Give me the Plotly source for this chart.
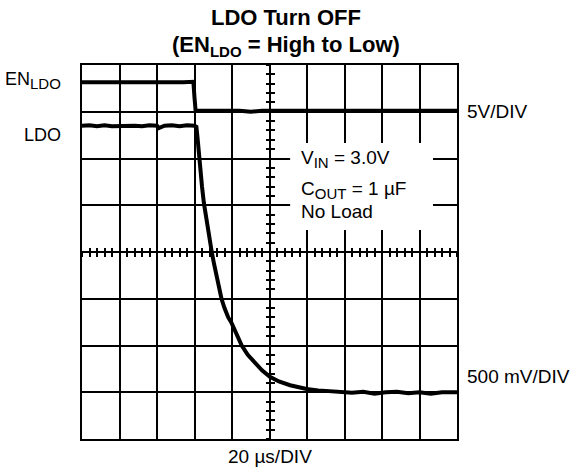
import plotly.graph_objects as go

# time and level in scope divisions (10 x 8 grid)
en_t = [0.0, 0.3, 0.6, 0.9, 1.2, 1.5, 1.8, 2.1, 2.4, 2.7, 2.97, 3.0, 3.03, 3.3, 3.6, 3.9,
        4.2, 4.5, 4.8, 5.1, 5.4, 5.7, 6.0, 6.3, 6.6, 6.9, 7.2, 7.5, 7.8, 8.1, 8.4, 8.7,
        9.0, 9.3, 9.6, 10.0]
en_v = [7.63, 7.64, 7.63, 7.63, 7.64, 7.63, 7.63, 7.64, 7.63, 7.63, 7.64, 7.3, 7.02, 7.02,
        7.03, 7.02, 7.02, 7.0, 7.02, 7.03, 7.02, 7.02, 7.02, 7.01, 7.02, 7.02, 7.03, 7.02,
        7.02, 7.02, 7.01, 7.02, 7.02, 7.03, 7.02, 7.02]

ldo_t = [0.0, 0.2, 0.4, 0.6, 0.8, 1.0, 1.2, 1.4, 1.6, 1.8, 2.0, 2.05, 2.2, 2.4, 2.6,
         2.8, 3.0, 3.05, 3.08, 3.12, 3.16, 3.20, 3.25, 3.30, 3.36, 3.41, 3.46, 3.52,
         3.58, 3.65, 3.72, 3.80, 3.90, 3.99, 4.10, 4.26, 4.42, 4.61, 4.80, 5.01, 5.25,
         5.55, 5.80, 5.99, 6.3, 6.6, 6.9, 7.2, 7.5, 7.8, 8.1, 8.4, 8.7, 9.0, 9.3,
         9.6, 10.0]
ldo_v = [6.70, 6.71, 6.69, 6.71, 6.69, 6.70, 6.71, 6.70, 6.69, 6.71, 6.70, 6.65, 6.70,
         6.71, 6.69, 6.71, 6.70, 6.68, 6.45, 6.05, 5.70, 5.40, 5.05, 4.78, 4.47, 4.20,
         4.00, 3.75, 3.52, 3.26, 3.00, 2.80, 2.60, 2.48, 2.27, 2.00, 1.80, 1.62, 1.47,
         1.33, 1.23, 1.15, 1.10, 1.07, 1.04, 1.02, 1.00, 0.99, 1.01, 0.97, 1.00, 1.01,
         0.98, 1.00, 0.97, 1.00, 1.00]

fig = go.Figure()
fig.add_trace(go.Scatter(x=en_t, y=en_v, mode="lines",
                         line=dict(color="black", width=4), showlegend=False))
fig.add_trace(go.Scatter(x=ldo_t, y=ldo_v, mode="lines",
                         line=dict(color="black", width=4), showlegend=False))
# empty traces so the centre tick axes get drawn
for xa, ya in [("x2", "y"), ("x3", "y"), ("x", "y2"), ("x", "y3")]:
    fig.add_trace(go.Scatter(x=[None], y=[None], xaxis=xa, yaxis=ya,
                             showlegend=False, hoverinfo="skip"))

grid = dict(showgrid=True, gridcolor="black", gridwidth=1.5, zeroline=False,
            showline=True, linecolor="black", linewidth=2, mirror=True,
            ticks="", showticklabels=False, dtick=1, tick0=0)
centre = dict(anchor="free", position=0.5, showgrid=False, zeroline=False,
              showline=False, showticklabels=False, dtick=0.2, tick0=0,
              ticklen=4, tickwidth=1.5, tickcolor="black")

fig.update_layout(
    width=571, height=475,
    margin=dict(l=82, r=114, t=65, b=36, autoexpand=False),
    plot_bgcolor="white", paper_bgcolor="white",
    font=dict(family="Liberation Sans, Arial, sans-serif", color="black", size=19),
    xaxis=dict(range=[0, 10], **grid),
    yaxis=dict(range=[0, 8], **grid),
    xaxis2=dict(overlaying="x", range=[0, 10], ticks="outside", **centre),
    xaxis3=dict(overlaying="x", range=[0, 10], ticks="inside", **centre),
    yaxis2=dict(overlaying="y", range=[0, 8], ticks="outside", **centre),
    yaxis3=dict(overlaying="y", range=[0, 8], ticks="inside", **centre),
)

# white patch behind the test-condition text
fig.add_shape(type="rect", xref="x", yref="y", x0=5.55, x1=9.36, y0=4.47, y1=6.33,
              fillcolor="white", line=dict(width=0), layer="above")

sub = "<sub><span style='font-size:15px'>{}</span></sub>"
ann = [
    dict(text="<b>LDO Turn OFF</b>", xref="paper", yref="paper", x=0.544, y=1.128,
         font=dict(size=22)),
    dict(text="<b>(EN" + sub.format("LDO") + " = High to Low)</b>", xref="paper",
         yref="paper", x=0.544, y=1.05, font=dict(size=22)),
    dict(text="EN" + sub.format("LDO"), xref="paper", yref="y", x=-0.051, y=7.66,
         xanchor="right", font=dict(size=18)),
    dict(text="LDO", xref="paper", yref="y", x=-0.051, y=6.5, xanchor="right",
         font=dict(size=18)),
    dict(text="5V/DIV", xref="paper", yref="y", x=1.021, y=7.0, xanchor="left"),
    dict(text="500 mV/DIV", xref="paper", yref="y", x=1.021, y=1.33, xanchor="left"),
    dict(text="20 µs/DIV", xref="paper", yref="paper", x=0.5, y=-0.048),
    dict(text="V" + sub.format("IN") + " = 3.0V", xref="x", yref="y", x=5.79, y=5.98,
         xanchor="left"),
    dict(text="C" + sub.format("OUT") + " = 1 µF", xref="x", yref="y", x=5.79, y=5.32,
         xanchor="left"),
    dict(text="No Load", xref="x", yref="y", x=5.79, y=4.86, xanchor="left"),
]
for a in ann:
    a.setdefault("showarrow", False)
    a.setdefault("yanchor", "middle")
    a.setdefault("xanchor", "center")
    fig.add_annotation(**a)

# drop the default 8px page margin so the figure sits at the window's corner
fig.write_html("out.html", config={"displayModeBar": False},
               post_script="document.body.style.margin='0';")
